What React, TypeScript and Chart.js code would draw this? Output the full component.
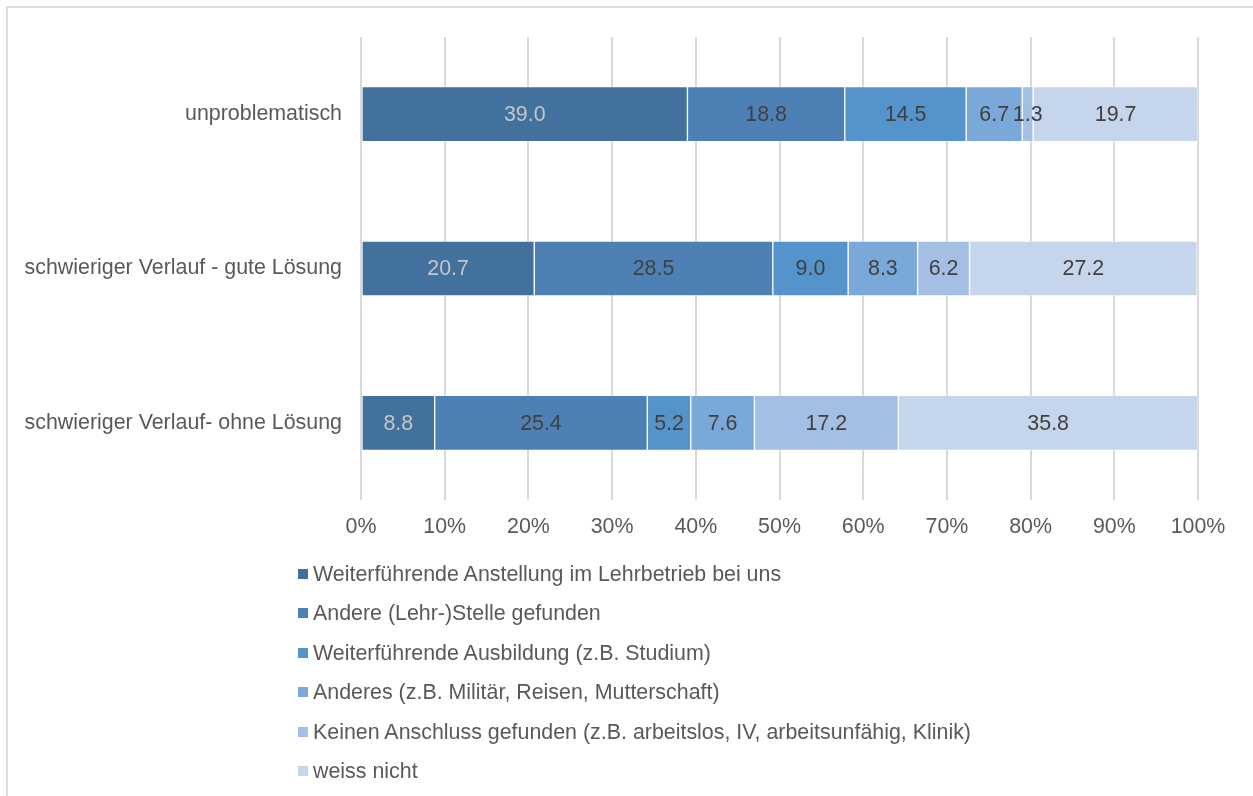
import React, { useEffect, useRef } from "react";
import { Chart, registerables } from "chart.js";

Chart.register(...registerables);

const categories = [
  "unproblematisch",
  "schwieriger Verlauf - gute Lösung",
  "schwieriger Verlauf- ohne Lösung",
];

const seriesNames = [
  "Weiterführende Anstellung im Lehrbetrieb bei uns",
  "Andere (Lehr-)Stelle gefunden",
  "Weiterführende Ausbildung (z.B. Studium)",
  "Anderes (z.B. Militär, Reisen, Mutterschaft)",
  "Keinen Anschluss gefunden (z.B. arbeitslos, IV, arbeitsunfähig, Klinik)",
  "weiss nicht",
];

const anstellung = [39.0, 20.7, 8.8];
const andereStelle = [18.8, 28.5, 25.4];
const ausbildung = [14.5, 9.0, 5.2];
const anderes = [6.7, 8.3, 7.6];
const keinAnschluss = [1.3, 6.2, 17.2];
const weissNicht = [19.7, 27.2, 35.8];

const seriesValues = [anstellung, andereStelle, ausbildung, anderes, keinAnschluss, weissNicht];

const seriesColors = ["#41719c", "#4d81b5", "#5593cb", "#7aa8d8", "#a3bfe3", "#c5d5eb"];
const labelColors = ["#c3c6ca", "#404040", "#404040", "#404040", "#404040", "#404040"];

const xTicks = [0, 10, 20, 30, 40, 50, 60, 70, 80, 90, 100];

const FONT = "'Liberation Sans', Arial, Helvetica, sans-serif";
const FS = 21.4;

const dataLabelPlugin = {
  id: "dataLabels",
  afterDatasetsDraw(chart: any) {
    const ctx = chart.ctx;
    ctx.save();
    ctx.font = `${FS}px ${FONT}`;
    ctx.textAlign = "center";
    ctx.textBaseline = "middle";
    chart.data.datasets.forEach((ds: any, i: number) => {
      const meta = chart.getDatasetMeta(i);
      meta.data.forEach((el: any, j: number) => {
        const v = ds.data[j];
        const cx = (el.x + el.base) / 2;
        ctx.fillStyle = labelColors[i];
        ctx.fillText(Number(v).toFixed(1), cx, el.y + 1);
      });
    });
    ctx.restore();
  },
};

export default function App() {
  const ref = useRef<HTMLCanvasElement>(null);

  useEffect(() => {
    if (!ref.current) return;
    const chart = new Chart(ref.current, {
      type: "bar",
      data: {
        labels: categories,
        datasets: seriesNames.map((name, i) => ({
          label: name,
          data: seriesValues[i],
          backgroundColor: seriesColors[i],
          borderColor: "rgba(255,255,255,0.45)",
          borderWidth: 1,
          borderSkipped: false,
          barThickness: 55,
        })),
      },
      options: {
        indexAxis: "y",
        responsive: false,
        animation: false,
        layout: { padding: { top: 37, right: 55, left: 0, bottom: 0 } },
        plugins: { legend: { display: false }, tooltip: { enabled: false } },
        scales: {
          x: {
            stacked: true,
            min: 0,
            max: 100,
            afterBuildTicks: (scale: any) => {
              scale.ticks = xTicks.map((v) => ({ value: v }));
            },
            afterFit: (scale: any) => {
              scale.height = 296;
            },
            ticks: {
              callback: (v: any) => v + "%",
              color: "#595959",
              font: { size: FS, family: FONT },
              padding: 14,
              maxRotation: 0,
            },
            grid: { color: "#d9d9d9", lineWidth: 2, drawTicks: false },
            border: { display: false },
          },
          y: {
            stacked: true,
            afterFit: (scale: any) => {
              scale.width = 361;
            },
            ticks: {
              color: "#595959",
              font: { size: FS, family: FONT },
              padding: 19,
            },
            grid: { display: false, drawTicks: false },
            border: { display: false },
          },
        },
      },
      plugins: [dataLabelPlugin],
    } as any);
    return () => chart.destroy();
  }, []);

  return (
    <div
      style={{
        position: "fixed",
        left: 0,
        top: 0,
        width: 1253,
        height: 796,
        overflow: "hidden",
        background: "#fff",
        fontFamily: FONT,
      }}
    >
      <div
        style={{
          position: "absolute",
          left: 6,
          top: 6,
          width: 1400,
          height: 1000,
          borderLeft: "2px solid #dcdcdc",
          borderTop: "2px solid #dcdcdc",
        }}
      />
      <canvas ref={ref} width={1253} height={796} style={{ position: "absolute", left: 0, top: 0 }} />
      {seriesNames.map((name, i) => (
        <div
          key={name}
          style={{
            position: "absolute",
            left: 298,
            top: 574 + i * 39.4 - 13,
            height: 26,
            display: "flex",
            alignItems: "center",
            whiteSpace: "nowrap",
            color: "#595959",
            fontSize: FS,
            lineHeight: "26px",
          }}
        >
          <span
            style={{
              display: "inline-block",
              width: 10,
              height: 10,
              background: seriesColors[i],
              marginRight: 5,
            }}
          />
          <span>{name}</span>
        </div>
      ))}
    </div>
  );
}
